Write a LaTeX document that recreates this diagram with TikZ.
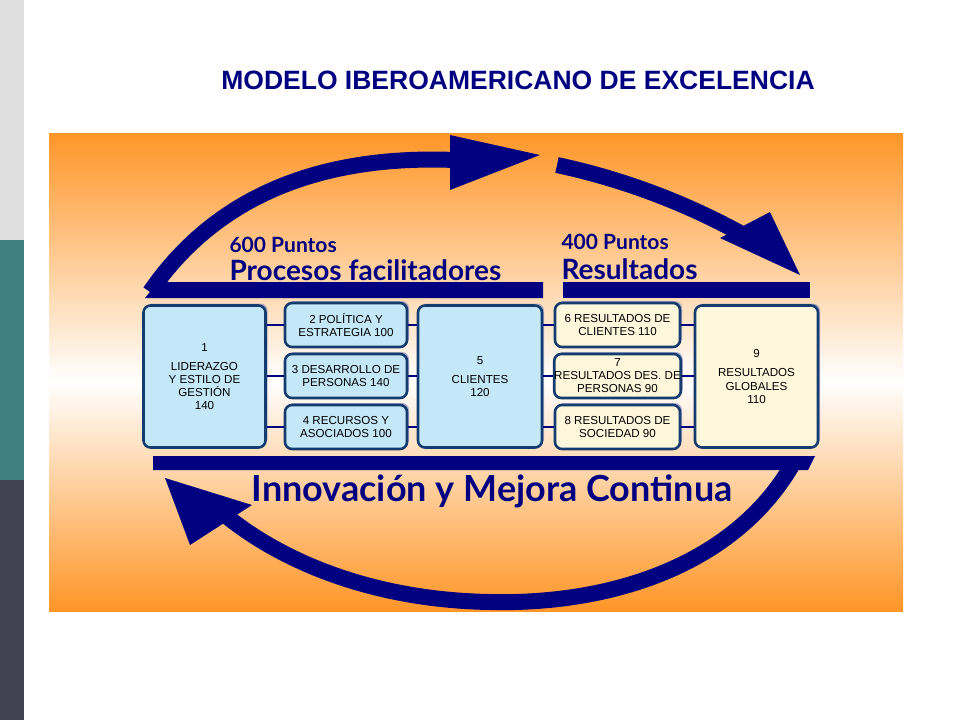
\documentclass[tikz,border=0pt]{standalone}
\usepackage{fontspec}
\setmainfont{Liberation Sans}
\newfontfamily\lat{Lato}
\usetikzlibrary{shadows}
\definecolor{navy}{RGB}{0,0,128}
\definecolor{orng}{RGB}{255,150,40}
\definecolor{lblue}{RGB}{197,232,248}
\definecolor{cream}{RGB}{255,247,220}
\definecolor{bord}{RGB}{20,60,110}
\definecolor{darkbar}{RGB}{66,66,82}
\definecolor{tealbar}{RGB}{64,128,128}
\begin{document}
\begin{tikzpicture}[x=1pt,y=-1pt,
 bx/.style={draw=bord,line width=2.6pt,rounded corners=7pt,align=center,font=\fontsize{11.6}{13}\selectfont,inner sep=0pt,
   drop shadow={shadow xshift=2pt,shadow yshift=2pt,fill=blue!30!gray!60,opacity=0.8}},
 con/.style={navy,line width=1.5pt},
 arc/.style={navy,line width=16pt},
 hd/.style={fill=navy,draw=none}]
\useasboundingbox (0,0) rectangle (960,720);
\fill[white] (0,0) rectangle (960,720);
\fill[gray!25] (0,0) rectangle (24,240);
\fill[tealbar] (0,240) rectangle (24,480);
\fill[darkbar] (0,480) rectangle (24,720);
\node[font=\bfseries\fontsize{26.5}{28}\selectfont,text=navy] (title) at (518,80) {MODELO IBEROAMERICANO DE EXCELENCIA};
% panel
\shade[top color=orng,bottom color=white] (49,133) rectangle (903,382);
\shade[top color=white,bottom color=orng] (49,381) rectangle (903,611);
% arcs
\draw[arc] (150,292) .. controls (220,190) and (330,155) .. (455,160);
\fill[hd] (450,135) -- (540,155) -- (450,190) -- cycle;
\draw[arc] (557,165) .. controls (650,185) and (720,220) .. (770,250);
\fill[hd] (720,238) -- (800,275) -- (770,212) -- cycle;
\draw[arc] (795,460) .. controls (740,560) and (620,605) .. (490,602) .. controls (370,600) and (280,560) .. (225,515);
\fill[hd] (165,478) -- (190,545) -- (252,505) -- cycle;
% bars
\fill[navy] (145,298) -- (158,282) -- (543,282) -- (543,298) -- cycle;
\fill[navy] (563,282) rectangle (810,298);
\fill[navy] (153,456) -- (815,456) -- (808,470) -- (153,470) -- cycle;
% texts
\node[anchor=west,text=navy,font=\lat\bfseries\fontsize{21}{22}\selectfont] (p6) at (226,245) {600 Puntos};
\node[anchor=west,text=navy,font=\lat\bfseries\fontsize{28}{29}\selectfont] (pf) at (226,270) {Procesos facilitadores};
\node[anchor=west,text=navy,font=\lat\bfseries\fontsize{21}{22}\selectfont] (p4) at (558,242) {400 Puntos};
\node[anchor=west,text=navy,font=\lat\bfseries\fontsize{28}{29}\selectfont] (rs) at (558,269) {Resultados};
\node[text=navy,font=\lat\bfseries\fontsize{36}{37}\selectfont] (imc) at (492,491) {Innovación y Mejora Continua};
% boxes
\node[bx,fill=lblue,minimum width=122pt,minimum height=142pt] (b1) at (204.5,376.5) {1\\[6pt]LIDERAZGO\\Y ESTILO DE\\GESTIÓN\\140};
\node[bx,fill=lblue,minimum width=122pt,minimum height=44pt] (b2) at (346,325) {2 POLÍTICA Y\\ESTRATEGIA 100};
\node[bx,fill=lblue,minimum width=122pt,minimum height=44pt] (b3) at (346,376) {3 DESARROLLO DE\\PERSONAS 140};
\node[bx,fill=lblue,minimum width=122pt,minimum height=44pt] (b4) at (346,427) {4 RECURSOS Y\\ASOCIADOS 100};
\node[bx,fill=lblue,minimum width=124pt,minimum height=142pt] (b5) at (480,376.5) {5\\[6pt]CLIENTES\\120};
\node[bx,fill=cream,minimum width=125pt,minimum height=44pt] (b6) at (617.5,325) {6 RESULTADOS DE\\CLIENTES 110};
\node[bx,fill=cream,minimum width=125pt,minimum height=44pt] (b7) at (617.5,376) {7\\RESULTADOS DES. DE\\PERSONAS 90};
\node[bx,fill=cream,minimum width=125pt,minimum height=44pt] (b8) at (617.5,427) {8 RESULTADOS DE\\SOCIEDAD 90};
\node[bx,fill=cream,minimum width=123pt,minimum height=142pt] (b9) at (756.5,376.5) {9\\[6pt]RESULTADOS\\GLOBALES\\110};
% connectors
\draw[con] (b1.east|-b2) -- (b2.west);
\draw[con] (b1.east|-b3) -- (b3.west);
\draw[con] (b1.east|-b4) -- (b4.west);
\draw[con] (b2.east) -- (b5.west|-b2);
\draw[con] (b3.east) -- (b5.west|-b3);
\draw[con] (b4.east) -- (b5.west|-b4);
\draw[con] (b5.east|-b6) -- (b6.west);
\draw[con] (b5.east|-b7) -- (b7.west);
\draw[con] (b5.east|-b8) -- (b8.west);
\draw[con] (b6.east) -- (b9.west|-b6);
\draw[con] (b7.east) -- (b9.west|-b7);
\draw[con] (b8.east) -- (b9.west|-b8);
\end{tikzpicture}
\end{document}
